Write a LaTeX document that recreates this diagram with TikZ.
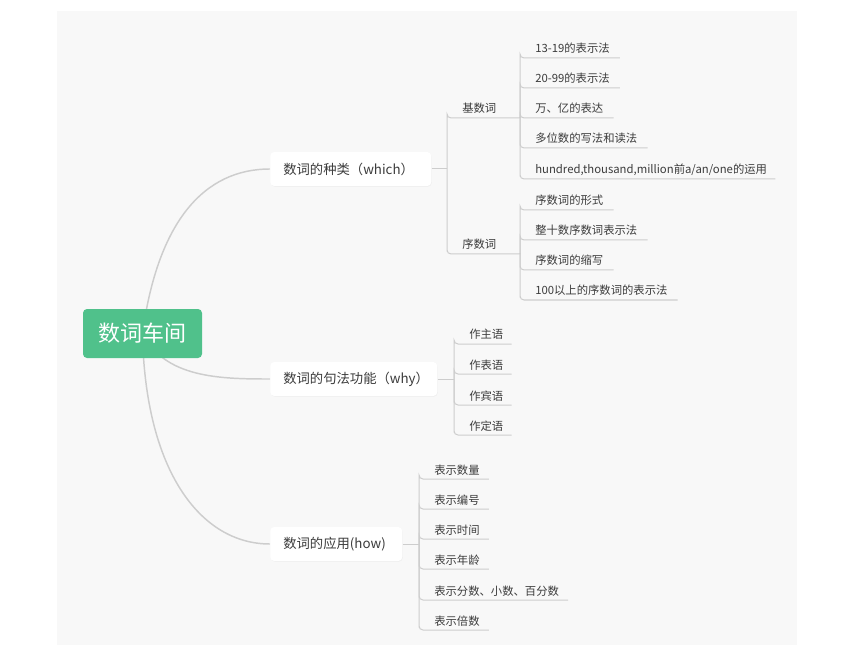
\documentclass[tikz,border=0pt]{standalone}
\usepackage{fontspec}
\setmainfont{Noto Sans CJK SC}
\usetikzlibrary{calc,backgrounds,shadows}
\definecolor{bggray}{RGB}{248,248,248}
\definecolor{rootgreen}{RGB}{80,193,139}
\definecolor{linegray}{RGB}{205,205,205}
\definecolor{textgray}{RGB}{60,60,60}
\begin{document}
\begin{tikzpicture}[x=0.75pt,y=-0.75pt]
\tikzstyle{root} = [fill=rootgreen, text=white, rounded corners=3pt, minimum width=89.25pt, minimum height=36.75pt, font=\fontsize{16.5}{18}\selectfont]
\tikzstyle{topic} = [fill=white, text=textgray, rounded corners=3pt, anchor=west, inner xsep=9.75pt, minimum height=25.5pt, align=left, font=\fontsize{10}{12}\selectfont, drop shadow={opacity=0.06, shadow xshift=0.4pt, shadow yshift=-0.6pt}]
\tikzstyle{leaf} = [anchor=base west, inner sep=0pt, text=textgray, font=\fontsize{8.5}{10}\selectfont]
\tikzstyle{link} = [draw=linegray, line width=1.1pt]
\tikzstyle{twig} = [draw=linegray, line width=0.75pt, rounded corners=3pt]

\useasboundingbox (0,0) rectangle (860,645);

\node [root] (root) at (142.5,333.5) {数词车间};

\node [topic, text width=101.25pt] (which) at (270,169) {数词的种类（which）};
\node [topic, text width=105.75pt] (why) at (270,379) {数词的句法功能（why）};
\node [topic, text width=79.5pt] (how) at (270,544) {数词的应用(how)};

\begin{scope}[on background layer]
\fill [bggray] (57,11) rectangle (797,645);
\draw [link] (root.center) .. controls (158,220) and (205,169) .. (which.west);
\draw [link] (root.center) .. controls (165,378) and (220,379) .. (why.west);
\draw [link] (root.center) .. controls (145,470) and (200,544) .. (how.west);
\end{scope}

% which
\coordinate (wj) at (447,169);
\draw [twig] (which.east) -- (wj);

\node [leaf] (jishu) at (462,113) {基数词};
\coordinate (kj) at (520,118);
\draw [twig] (wj) |- ($(jishu.base west)+(-15,5)$) -- (kj);

\node [leaf] (xushu) at (462,249) {序数词};
\coordinate (xj) at (520,254);
\draw [twig] (wj) |- ($(xushu.base west)+(-15,5)$) -- (xj);

\node [leaf] (k1) at (535,53) {13-19的表示法};
\draw [twig] (kj) |- ($(k1.base west)+(-15,5)$) -- ($(k1.base east)+(10,5)$);
\node [leaf] (k2) at (535,83) {20-99的表示法};
\draw [twig] (kj) |- ($(k2.base west)+(-15,5)$) -- ($(k2.base east)+(10,5)$);
\node [leaf] (k3) at (535,113) {万、亿的表达};
\draw [twig] (kj) |- ($(k3.base west)+(-15,5)$) -- ($(k3.base east)+(10,5)$);
\node [leaf] (k4) at (535,143) {多位数的写法和读法};
\draw [twig] (kj) |- ($(k4.base west)+(-15,5)$) -- ($(k4.base east)+(10,5)$);
\node [leaf] (k5) at (535,174) {hundred,thousand,million前a/an/one的运用};
\draw [twig] (kj) |- ($(k5.base west)+(-15,5)$) -- ($(k5.base east)+(8,5)$);

\node [leaf] (x1) at (535,205) {序数词的形式};
\draw [twig] (xj) |- ($(x1.base west)+(-15,5)$) -- ($(x1.base east)+(10,5)$);
\node [leaf] (x2) at (535,235) {整十数序数词表示法};
\draw [twig] (xj) |- ($(x2.base west)+(-15,5)$) -- ($(x2.base east)+(10,5)$);
\node [leaf] (x3) at (535,265) {序数词的缩写};
\draw [twig] (xj) |- ($(x3.base west)+(-15,5)$) -- ($(x3.base east)+(10,5)$);
\node [leaf] (x4) at (535,295) {100以上的序数词的表示法};
\draw [twig] (xj) |- ($(x4.base west)+(-15,5)$) -- ($(x4.base east)+(10,5)$);

% why
\coordinate (yj) at (454,379);
\draw [twig] (why.east) -- (yj);

\node [leaf] (y1) at (469,339) {作主语};
\draw [twig] (yj) |- ($(y1.base west)+(-15,5)$) -- ($(y1.base east)+(8,5)$);
\node [leaf] (y2) at (469,369) {作表语};
\draw [twig] (yj) |- ($(y2.base west)+(-15,5)$) -- ($(y2.base east)+(8,5)$);
\node [leaf] (y3) at (469,400) {作宾语};
\draw [twig] (yj) |- ($(y3.base west)+(-15,5)$) -- ($(y3.base east)+(8,5)$);
\node [leaf] (y4) at (469,430) {作定语};
\draw [twig] (yj) |- ($(y4.base west)+(-15,5)$) -- ($(y4.base east)+(8,5)$);

% how
\coordinate (hj) at (419,544);
\draw [twig] (how.east) -- (hj);

\node [leaf] (h1) at (434,474) {表示数量};
\draw [twig] (hj) |- ($(h1.base west)+(-15,5)$) -- ($(h1.base east)+(9,5)$);
\node [leaf] (h2) at (434,504) {表示编号};
\draw [twig] (hj) |- ($(h2.base west)+(-15,5)$) -- ($(h2.base east)+(9,5)$);
\node [leaf] (h3) at (434,534) {表示时间};
\draw [twig] (hj) |- ($(h3.base west)+(-15,5)$) -- ($(h3.base east)+(9,5)$);
\node [leaf] (h4) at (434,564) {表示年龄};
\draw [twig] (hj) |- ($(h4.base west)+(-15,5)$) -- ($(h4.base east)+(9,5)$);
\node [leaf] (h5) at (434,595) {表示分数、小数、百分数};
\draw [twig] (hj) |- ($(h5.base west)+(-15,5)$) -- ($(h5.base east)+(9,5)$);
\node [leaf] (h6) at (434,625) {表示倍数};
\draw [twig] (hj) |- ($(h6.base west)+(-15,5)$) -- ($(h6.base east)+(9,5)$);
\end{tikzpicture}
\end{document}
